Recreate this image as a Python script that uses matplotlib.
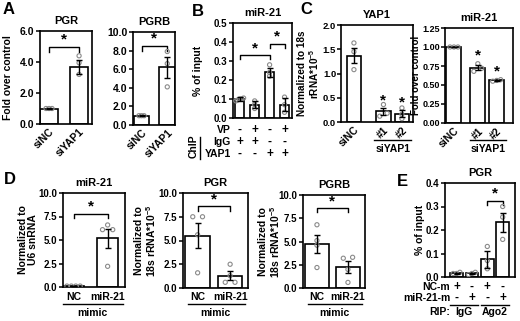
import numpy as np
import matplotlib
matplotlib.use("Agg")
import matplotlib.pyplot as plt
from matplotlib import transforms

plt.rcParams['font.family'] = ['Liberation Sans', 'DejaVu Sans']
plt.rcParams['font.weight'] = 'bold'
plt.rcParams['axes.titleweight'] = 'bold'
plt.rcParams['axes.labelweight'] = 'bold'
plt.rcParams['mathtext.fontset'] = 'custom'
plt.rcParams['mathtext.rm'] = 'Liberation Sans:bold'
plt.rcParams['mathtext.bf'] = 'Liberation Sans:bold'
plt.rcParams['mathtext.default'] = 'rm'

W, H = 520, 321

# ---- data ----
# A
a_labels = ['siNC', 'siYAP1']
a_pgr_mean = [1.0, 3.7]
a_pgr_sem = [0.02, 0.45]
a_pgr_pts = [[1.0, 1.0, 1.0], [4.4, 3.95, 3.2]]
a_pgrb_mean = [1.0, 6.2]
a_pgrb_sem = [0.03, 1.15]
a_pgrb_pts = [[1.0, 1.0, 1.0], [7.9, 6.6, 4.1]]

# B
b_mean = [0.10, 0.07, 0.24, 0.07]
b_sem = [0.008, 0.018, 0.025, 0.035]
b_pts = [[0.105, 0.10, 0.095, 0.10, 0.09], [0.09, 0.07, 0.05], [0.28, 0.24, 0.22], [0.11, 0.07, 0.03]]
b_vp = ['-', '+', '-', '+']
b_igg = ['+', '+', '-', '-']
b_yap1 = ['-', '-', '+', '+']

# C
c_labels = ['siNC', '#1', '#2']
c_yap_mean = [1.37, 0.22, 0.17]
c_yap_sem = [0.15, 0.07, 0.07]
c_yap_pts = [[1.63, 1.45, 1.08], [0.36, 0.18, 0.12], [0.29, 0.16, 0.07]]
c_mir_mean = [1.0, 0.73, 0.56]
c_mir_sem = [0.003, 0.035, 0.01]
c_mir_pts = [[1.0, 1.0, 1.0], [0.78, 0.72, 0.68], [0.57, 0.56, 0.55]]

# D
d_labels = ['NC', 'miR-21']
d_mir_mean = [0.1, 5.2]
d_mir_sem = [0.02, 1.0]
d_mir_pts = [[0.1, 0.1, 0.1, 0.1], [6.6, 6.1, 6.1, 2.2]]
d_pgr_mean = [5.5, 1.3]
d_pgr_sem = [1.3, 0.45]
d_pgr_pts = [[7.5, 7.5, 5.6, 1.6], [2.5, 1.3, 0.6, 0.6]]
d_pgrb_mean = [4.7, 2.3]
d_pgrb_sem = [0.95, 0.65]
d_pgrb_pts = [[6.8, 5.1, 4.6, 2.2], [3.2, 3.3, 2.0, 0.6]]

# E
e_mean = [0.015, 0.015, 0.075, 0.233]
e_sem = [0.004, 0.004, 0.035, 0.04]
e_pts = [[0.02, 0.015, 0.015], [0.02, 0.015, 0.01], [0.13, 0.07, 0.035], [0.30, 0.255, 0.16]]
e_ncm = ['+', '-', '+', '-']
e_mirm = ['-', '+', '-', '+']
e_rip = ['IgG', 'Ago2']

fig = plt.figure(figsize=(W / 100, H / 100), dpi=100)


def make_ax(l, t, r, b, fs=7):
    ax = fig.add_axes([l / W, 1 - b / H, (r - l) / W, (b - t) / H])
    for s in ax.spines.values():
        s.set_linewidth(1.2)
    ax.tick_params(axis='y', length=3, width=1.1, labelsize=fs, pad=1)
    ax.tick_params(axis='x', length=0, labelsize=fs, pad=2)
    return ax


def bars(ax, means, sems, pts, ymax, xlim, width=0.62, x=None, step=0.1):
    x = np.arange(len(means)) if x is None else np.asarray(x, float)
    ax.bar(x, means, width, color='white', edgecolor='black', lw=1.2, zorder=2)
    ax.errorbar(x, means, yerr=sems, fmt='none', ecolor='black', elinewidth=1.0,
                capsize=2.5, capthick=1.0, zorder=4)
    # spread points that sit at nearly the same height
    tol = 0.035 * ymax
    for i, p in enumerate(pts):
        p = np.asarray(p, float)
        order = np.argsort(p)
        offs = np.zeros(len(p))
        groups, cur = [], [order[0]]
        for j in order[1:]:
            if p[j] - p[cur[-1]] < tol:
                cur.append(j)
            else:
                groups.append(cur)
                cur = [j]
        groups.append(cur)
        for g in groups:
            if len(g) > 1:
                offs[g] = np.linspace(-step, step, len(g)) * (1 if len(g) < 4 else 1.3)
        ax.scatter(x[i] + offs, p, s=9, facecolors='none', edgecolors='#8a8a8a',
                   lw=0.8, zorder=3)
    ax.set_xlim(*xlim)
    ax.set_ylim(0, ymax)
    return x


def ylab(ax, text, px_right, l, r, fs=7.5):
    ax.set_ylabel(text, fontsize=fs, linespacing=1.0)
    ax.yaxis.set_label_coords((px_right - l) / (r - l), 0.5)


def bracket(ax, x1, x2, y, h, fs=11):
    ax.plot([x1, x1, x2, x2], [y - h, y, y, y - h], color='black', lw=1.0, clip_on=False)
    ax.text((x1 + x2) / 2, y, '*', ha='center', va='bottom', fontsize=fs)


def star(ax, x, y, fs=11):
    ax.text(x, y, '*', ha='center', va='bottom', fontsize=fs)


def rowtext(ax, xs, labels, py, fs=8.5):
    tr = transforms.blended_transform_factory(ax.transData, fig.transFigure)
    for x, s in zip(xs, labels):
        ax.text(x, 1 - py / H, s, transform=tr, ha='center', va='center', fontsize=fs)


def hline(ax, x1, x2, py):
    tr = transforms.blended_transform_factory(ax.transData, fig.transFigure)
    ax.plot([x1, x2], [1 - py / H, 1 - py / H], transform=tr, color='black', lw=1.0,
            clip_on=False)


def ftext(px, py, s, **kw):
    fig.text(px / W, 1 - py / H, s, **kw)


def rot_labels(ax, xs, labels, fs=7.5):
    ax.set_xticks(xs)
    ax.set_xticklabels(labels, rotation=45, ha='right', rotation_mode='anchor', fontsize=fs)


# ---- A ----
l, t, r, b = 40, 31, 92, 124
ax = make_ax(l, t, r, b, 7.5)
xs = bars(ax, a_pgr_mean, a_pgr_sem, a_pgr_pts, 6.0, (-0.3, 1.43))
ax.set_yticks([0, 2, 4, 6])
ax.set_yticklabels(['0.0', '2.0', '4.0', '6.0'])
rot_labels(ax, xs, a_labels)
ax.set_title('PGR', fontsize=8, pad=5)
ylab(ax, 'Fold over control', 13, l, r)
bracket(ax, 0, 1, 5.0, 0.35)

l, t, r, b = 133, 32, 175, 125
ax = make_ax(l, t, r, b, 7.5)
xs = bars(ax, a_pgrb_mean, a_pgrb_sem, a_pgrb_pts, 10.0, (-0.33, 1.3))
ax.set_yticks([0, 2, 4, 6, 8, 10])
ax.set_yticklabels(['0.0', '2.0', '4.0', '6.0', '8.0', '10.0'])
rot_labels(ax, xs, a_labels)
ax.set_title('PGRB', fontsize=8, pad=5)
bracket(ax, 0, 1, 8.5, 0.55)

# ---- B ----
l, t, r, b = 233, 23, 292, 118
ax = make_ax(l, t, r, b)
xs = bars(ax, b_mean, b_sem, b_pts, 0.5, (-0.45, 3.5), width=0.6, step=0.2)
ax.set_yticks(np.arange(0, 0.51, 0.1))
ax.set_yticklabels(['0.0', '0.1', '0.2', '0.3', '0.4', '0.5'])
ax.set_xticks([])
ax.set_title('miR-21', fontsize=8, pad=5)
ylab(ax, '% of input', 203, l, r)
bracket(ax, 0, 2, 0.33, 0.02)
bracket(ax, 2, 3, 0.39, 0.02)
rowtext(ax, xs, b_vp, 130)
rowtext(ax, xs, b_igg, 142)
rowtext(ax, xs, b_yap1, 154)
ftext(231, 130, 'VP', ha='right', va='center', fontsize=7.5)
ftext(231, 142, 'IgG', ha='right', va='center', fontsize=7.5)
ftext(231, 154, 'YAP1', ha='right', va='center', fontsize=7.5)
ftext(194, 146, 'ChIP', ha='center', va='center', rotation=90, fontsize=7.5)
fig.add_artist(plt.Line2D([200 / W, 200 / W], [1 - 137 / H, 1 - 159 / H], color='black', lw=1.0))

# ---- C ----
l, t, r, b = 341, 25, 413, 122
ax = make_ax(l, t, r, b, 6.8)
ax.tick_params(axis='y', pad=0.5)
xs = bars(ax, c_yap_mean, c_yap_sem, c_yap_pts, 2.0, (-0.7, 3.2), width=0.8,
          x=[0, 1.6, 2.6], step=0.2)
ax.set_yticks([0, 0.5, 1.0, 1.5, 2.0])
ax.set_yticklabels(['0.0', '0.5', '1.0', '1.5', '2.0'])
rot_labels(ax, xs, c_labels)
ax.set_title('YAP1', fontsize=8, pad=5)
ylab(ax, 'Normalized to 18s\nrRNA*10$^{-5}$', 321, l, r, fs=7.2)
star(ax, xs[1], 0.30)
star(ax, xs[2], 0.25)
hline(ax, 1.1, 3.1, 140)
tr = transforms.blended_transform_factory(ax.transData, fig.transFigure)
ax.text(2.1, 1 - 149 / H, 'siYAP1', transform=tr, ha='center', va='center', fontsize=7.5)

l, t, r, b = 445, 28, 513, 123
ax = make_ax(l, t, r, b, 6.5)
ax.tick_params(axis='y', pad=0.5)
xs = bars(ax, c_mir_mean, c_mir_sem, c_mir_pts, 1.25, (-0.45, 2.97), width=0.75,
          x=[0, 1.2, 2.15], step=0.2)
ax.set_yticks([0, 0.25, 0.5, 0.75, 1.0, 1.25])
ax.set_yticklabels(['0.00', '0.25', '0.50', '0.75', '1.00', '1.25'])
rot_labels(ax, xs, c_labels)
ax.set_title('miR-21', fontsize=8, pad=5)
ylab(ax, 'Fold over control', 421, l, r, fs=7)
star(ax, xs[1], 0.80)
star(ax, xs[2], 0.59)
hline(ax, 0.8, 2.6, 140)
tr = transforms.blended_transform_factory(ax.transData, fig.transFigure)
ax.text(1.7, 1 - 149 / H, 'siYAP1', transform=tr, ha='center', va='center', fontsize=7.5)

# ---- D ----
d_panels = [
    ((63, 193, 125, 287), d_mir_mean, d_mir_sem, d_mir_pts, 'miR-21',
     'Normalized to\nU6 snRNA', 38, 7.8, (-0.31, 1.51), 0.6),
    ((183, 193, 248, 288), d_pgr_mean, d_pgr_sem, d_pgr_pts, 'PGR',
     'Normalized to\n18s rRNA*10$^{-5}$', 158, 8.6, (-0.45, 1.55), 0.75),
    ((303, 195, 365, 288), d_pgrb_mean, d_pgrb_sem, d_pgrb_pts, 'PGRB',
     'Normalized to\n18s rRNA*10$^{-5}$', 282, 8.6, (-0.45, 1.55), 0.75),
]
for (l, t, r, b), m, s, p, title, yl, ylx, by, xl, wd in d_panels:
    ax = make_ax(l, t, r, b)
    xs = bars(ax, m, s, p, 10.0, xl, width=wd, step=0.15)
    ax.set_yticks([0, 2.5, 5.0, 7.5, 10.0])
    ax.set_yticklabels(['0.0', '2.5', '5.0', '7.5', '10.0'])
    ax.set_xticks([])
    ax.set_title(title, fontsize=8, pad=5)
    ylab(ax, yl, ylx, l, r)
    bracket(ax, 0, 1, by, 0.45)
    tr = transforms.blended_transform_factory(ax.transData, fig.transFigure)
    for x, s_ in zip(xs, d_labels):
        ax.text(x, 1 - 297 / H, s_, transform=tr, ha='center', va='center', fontsize=7.5)
    hline(ax, -0.3, 1.45, 304)
    ax.text(0.55, 1 - 313 / H, 'mimic', transform=tr, ha='center', va='center', fontsize=7.5)

# ---- E ----
l, t, r, b = 445, 183, 515, 277
ax = make_ax(l, t, r, b)
xs = bars(ax, e_mean, e_sem, e_pts, 0.4, (-0.75, 3.8), width=0.82, step=0.22)
ax.set_yticks([0, 0.1, 0.2, 0.3, 0.4])
ax.set_yticklabels(['0.0', '0.1', '0.2', '0.3', '0.4'])
ax.set_xticks([])
ax.set_title('PGR', fontsize=8, pad=5)
ylab(ax, '% of input', 425, l, r)
bracket(ax, xs[2], xs[3], 0.325, 0.02)
rowtext(ax, xs, e_ncm, 287)
rowtext(ax, xs, e_mirm, 298)
ftext(450, 287, 'NC-m', ha='right', va='center', fontsize=7.5)
ftext(450, 298, 'miR-21-m', ha='right', va='center', fontsize=7.5)
ftext(450, 312, 'RIP:', ha='right', va='center', fontsize=7.5)
tr = transforms.blended_transform_factory(ax.transData, fig.transFigure)
for k, s_ in enumerate(e_rip):
    hline(ax, 2 * k - 0.4, 2 * k + 1.4, 305)
    ax.text(2 * k + 0.5, 1 - 312 / H, s_, transform=tr, ha='center', va='center', fontsize=7.5)

# panel letters
for px, py, s in [(9, 9, 'A'), (198, 11, 'B'), (306, 10, 'C'), (10, 180, 'D'), (402, 182, 'E')]:
    ftext(px, py, s, ha='center', va='center', fontsize=12)

fig.savefig('out.png', dpi=100)
